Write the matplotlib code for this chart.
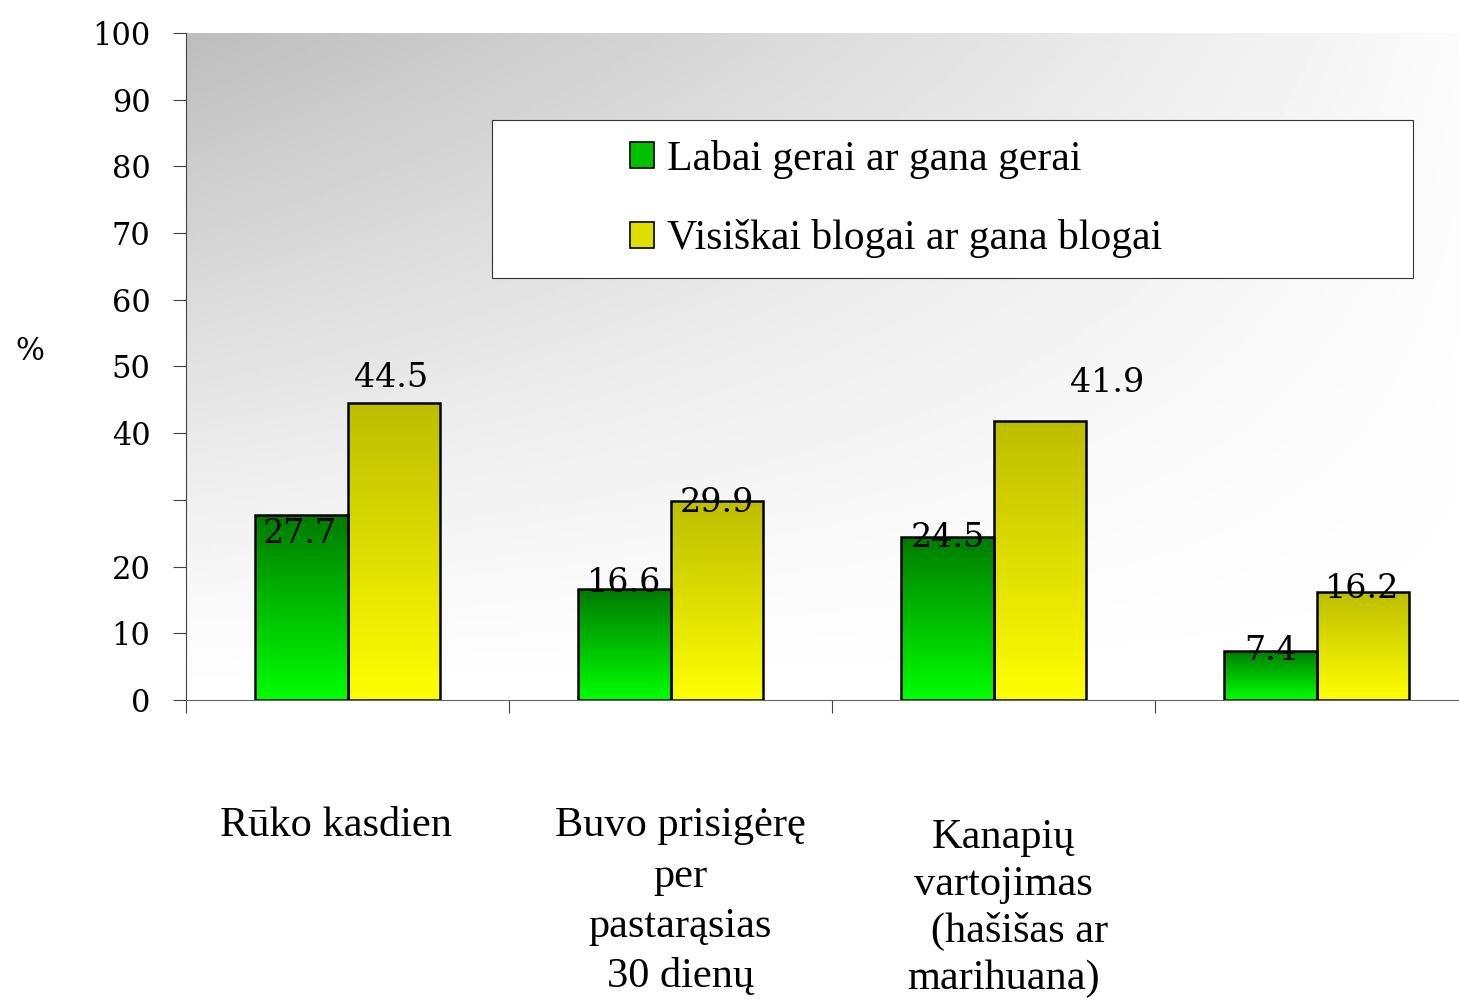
import numpy as np
import matplotlib.pyplot as plt
from matplotlib.colors import LinearSegmentedColormap
from matplotlib.patches import Patch, Rectangle

# data
categories = ['Rūko kasdien',
              'Buvo prisigėrę\nper\npastarąsias\n30 dienų',
              'Kanapių\nvartojimas\n   (hašišas ar\nmarihuana)',
              '']
series_names = ['Labai gerai ar gana gerai', 'Visiškai blogai ar gana blogai']
good = [27.7, 16.6, 24.5, 7.4]
bad = [44.5, 29.9, 41.9, 16.2]
ytick_vals = [0, 10, 20, 30, 40, 50, 60, 70, 80, 90, 100]
ytick_labels = ['0', '10', '20', '', '40', '50', '60', '70', '80', '90', '100']

# label offsets in pixels (dx, dy) relative to top centre of each bar
good_offsets = [(-2, -19), (0, 6), (0, -1), (0, 0)]
bad_offsets = [(-2, 25), (0, -2), (68, 38), (0, 3)]

W, H = 1459, 1002
fig = plt.figure(figsize=(W / 100, H / 100), dpi=100)
ax = fig.add_axes([186 / W, 302 / H, 1292 / W, 667 / H])

num_font = 'DejaVu Serif'
txt_font = 'Liberation Serif'

# background gradient (grey top-left to white bottom-right)
gx, gy = np.meshgrid(np.linspace(0, 1, 300), np.linspace(0, 1, 200))
bg = 1 - 0.26 * (1 - 0.95 * gx) * gy ** 1.2
ax.imshow(bg, extent=[-0.5, 3.5, 0, 100], origin='lower', cmap='gray',
          vmin=0, vmax=1, aspect='auto', zorder=0)

green_cmap = LinearSegmentedColormap.from_list('g', ['#00ff00', '#007a00'])
yellow_cmap = LinearSegmentedColormap.from_list('y', ['#ffff00', '#bdbd00'])
grad = np.linspace(0, 1, 256).reshape(-1, 1)

x = np.arange(len(categories))
width = 0.285

def draw_bars(xpos, vals, cmap, offsets):
    bars = ax.bar(xpos, vals, width, align='edge', facecolor='none',
                  edgecolor='black', linewidth=1.8, zorder=3)
    for b, v, (dx, dy) in zip(bars, vals, offsets):
        x0 = b.get_x()
        im = ax.imshow(grad, extent=[x0, x0 + b.get_width(), 0, b.get_height()],
                       origin='lower', cmap=cmap, aspect='auto', zorder=2)
        im.set_clip_path(b)
        ax.annotate(f'{v}', xy=(x0 + b.get_width() / 2, v),
                    xytext=(dx * 0.72, dy * 0.72), textcoords='offset points',
                    ha='center', va='center', fontsize=24, family=num_font,
                    zorder=4)
    return bars

draw_bars(x - width, good, green_cmap, good_offsets)
draw_bars(x, bad, yellow_cmap, bad_offsets)

ax.set_xlim(-0.5, 3.5)
ax.set_ylim(0, 100)

ax.set_yticks(ytick_vals)
ax.set_yticklabels(ytick_labels, fontsize=22, family=num_font)
ax.tick_params(axis='y', length=9.5, width=0.8, color='#444444', pad=16)
ax.set_xticks(np.arange(-0.5, 3.5, 1))
ax.set_xticklabels([])
ax.tick_params(axis='x', length=9.5, width=0.8, color='#444444')

for s in ['top', 'right']:
    ax.spines[s].set_visible(False)
ax.spines['left'].set_color('#444444')
ax.spines['left'].set_linewidth(0.8)
ax.spines['bottom'].set_color('#666666')
ax.spines['bottom'].set_linewidth(0.8)

# category labels under the axis
cat_shift = [-0.035, 0.03, 0.03, 0.0]
cat_top = [-0.16, -0.16, -0.178, -0.16]
cat_spacing = [1.4, 1.4, 1.28, 1.4]
for i, lab in enumerate(categories):
    ax.text(i + cat_shift[i], cat_top[i], lab, transform=ax.get_xaxis_transform(),
            ha='center', va='top', multialignment='center',
            fontsize=30.5, family=txt_font, linespacing=cat_spacing[i])

fig.text(30 / W, 1 - 352 / H, '%', ha='center', va='center',
         fontsize=22, family=num_font)

# legend box and entries
fig.patches.append(Rectangle((492 / W, 1 - 278 / H), 921 / W, 158 / H,
                             transform=fig.transFigure, facecolor='white',
                             edgecolor='#333333', linewidth=0.8, zorder=5))
handles = [Patch(facecolor='#00c000', edgecolor='black', linewidth=1.2),
           Patch(facecolor='#e0e000', edgecolor='black', linewidth=1.2)]
leg = fig.legend(handles, series_names, loc='upper left',
                 bbox_to_anchor=(630 / W, 1 - 140 / H), frameon=False,
                 prop={'family': txt_font, 'size': 30},
                 handlelength=0.58, handleheight=0.58, handletextpad=0.31,
                 labelspacing=0.97, borderpad=0, borderaxespad=0)
leg.set_zorder(6)

fig.savefig('out.png', dpi=100)
